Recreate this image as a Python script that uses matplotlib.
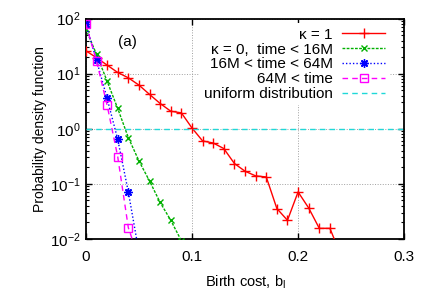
import numpy as np
import matplotlib
matplotlib.use("Agg")
import matplotlib.pyplot as plt

plt.rcParams['font.family'] = ['Liberation Sans', 'DejaVu Sans']
plt.rcParams['mathtext.default'] = 'regular'
plt.rcParams['font.size'] = 10

# birth cost bins (step 0.01)
b_k1 = np.arange(25) * 0.01
pdf_k1 = [26, 19.5, 14.3, 10.5, 8.4, 6.2, 4.2, 2.87, 2.08, 1.94, 1.03, 0.6, 0.55,
          0.436, 0.233, 0.169, 0.139, 0.133, 0.0355, 0.0217, 0.071, 0.0363,
          0.0155, 0.0155, 0.0052]

b_k0_early = np.arange(10) * 0.01
pdf_k0_early = [64, 22.5, 7.3, 2.33, 0.69, 0.26, 0.112, 0.0457, 0.0217, 0.0092]

b_k0_mid = np.arange(6) * 0.01
pdf_k0_mid = [79, 17.6, 3.55, 0.64, 0.071, 0.0057]

b_k0_late = np.arange(6) * 0.01
pdf_k0_late = [79, 17, 2.67, 0.31, 0.0159, 0.0043]

uniform_level = 1.0

labels = ['κ = 1', 'κ = 0,  time < 16M', '16M < time < 64M', '64M < time',
          'uniform distribution']

fig = plt.figure(figsize=(4.36, 3.05), dpi=100)
ax = fig.add_axes([0.197, 0.217, 0.73, 0.722])

ax.plot(b_k1, pdf_k1, color='#ff0000', lw=1, marker='+', ms=7, mew=1,
        label=labels[0], zorder=3)
ax.plot(b_k0_early, pdf_k0_early, color='#00b000', lw=1, ls=(0, (2, 1)),
        marker='x', ms=5, mew=1, label=labels[1], zorder=3)
ax.plot(b_k0_mid, pdf_k0_mid, color='#0000ff', lw=1, ls=(0, (1, 1.5)),
        marker=(8, 2, 0), ms=6, mew=1, label=labels[2], zorder=3)
ax.plot(b_k0_late, pdf_k0_late, color='#ff00ff', lw=1, ls=(0, (4, 3)),
        marker='s', ms=6, mew=1, mfc='none', label=labels[3], zorder=3)
ax.axhline(uniform_level, color='#20d8d8', lw=1, ls=(0, (4, 3)),
           label=labels[4], zorder=3)

ax.set_yscale('log')
ax.set_xlim(0, 0.3)
ax.set_ylim(1e-2, 1e2)
ax.set_xticks([0, 0.1, 0.2, 0.3])
ax.set_xticklabels(['0', '0.1', '0.2', '0.3'])
ax.tick_params(which='both', direction='in', top=True, right=True, labelsize=11)
ax.tick_params(which='major', length=4, width=1)
ax.tick_params(which='minor', length=2, width=0.8)
ax.tick_params(axis='x', pad=8)
ax.tick_params(axis='y', pad=4)
for s in ax.spines.values():
    s.set_linewidth(1.3)

ax.grid(True, which='major', color='#a0a0a0', ls=':', lw=0.7, zorder=1)
ax.set_axisbelow(True)

ax.set_xlabel('Birth cost, b$_\\mathregular{l}$', fontsize=10.5, labelpad=7)
ax.set_ylabel('Probability density function', fontsize=10, labelpad=2)
ax.text(0.132, 0.893, '(a)', transform=ax.transAxes, fontsize=11,
        ha='center', va='center')

leg = ax.legend(loc='upper right', bbox_to_anchor=(0.955, 0.979),
                markerfirst=False, fontsize=11, handlelength=2.8,
                handletextpad=0.65, labelspacing=0.05, borderpad=0.3,
                borderaxespad=0, frameon=True, fancybox=False, framealpha=1,
                facecolor='white', edgecolor='none')
leg.set_zorder(2.5)

fig.savefig('out.png', dpi=100)
